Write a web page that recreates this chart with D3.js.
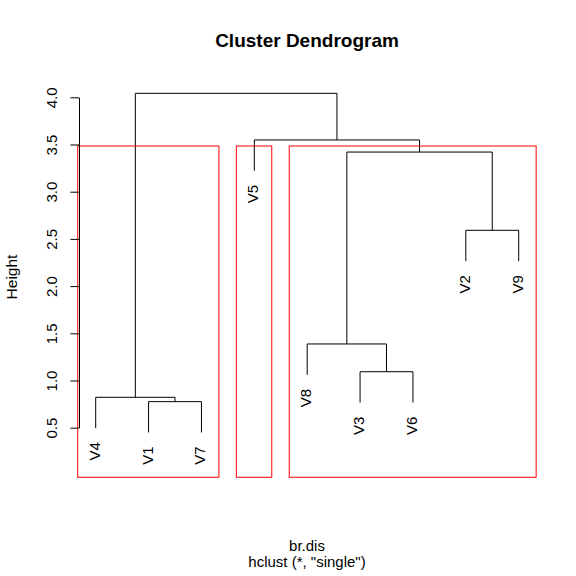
<!DOCTYPE html>
<html lang="en">
<head>
<meta charset="utf-8">
<title>Cluster Dendrogram</title>
<script src="https://cdn.jsdelivr.net/npm/d3@7"></script>
<style>
  body { margin: 0; background: #fff; }
  text { font-family: "Liberation Sans", Arial, Helvetica, sans-serif; fill: #000; }
</style>
</head>
<body>
<script>
// hclust result (R style merge matrix: negative = leaf number, positive = earlier merge)
var leafNames = ["V1", "V2", "V3", "V4", "V5", "V6", "V7", "V8", "V9"];
var mergeLeft = [-1, -4, -3, -8, -2, 4, -5, 2];
var mergeRight = [-7, 1, -6, 3, -9, 5, 6, 7];
var mergeHeight = [0.776, 0.822, 1.093, 1.387, 2.591, 3.420, 3.548, 4.042];
var yTicks = [0.5, 1.0, 1.5, 2.0, 2.5, 3.0, 3.5, 4.0];
var kClusters = 3;

var W = 576, H = 576;
var svg = d3.select("body").append("svg")
  .attr("width", W).attr("height", H);

// leaf order by walking the tree from the top merge
var order = [];
function walk(n) {
  if (n < 0) { order.push(-n); return; }
  walk(mergeLeft[n - 1]);
  walk(mergeRight[n - 1]);
}
walk(mergeLeft.length);

var x = d3.scaleLinear().domain([1, order.length]).range([95.7, 518.7]);
var y = d3.scaleLinear().domain([0.5, 4.0]).range([427.7, 97.3]);
var hang = 0.1 * (d3.max(mergeHeight) - d3.min(mergeHeight));
var plotBottom = -0.025;

var leafPos = {};
order.forEach(function(leaf, i) { leafPos[leaf] = i + 1; });

var nodeX = [], lines = [], leafEnds = [];
function childX(c) { return c < 0 ? leafPos[-c] : nodeX[c - 1]; }
function childTop(c, h) {
  if (c < 0) {
    leafEnds.push({ leaf: -c, h: h - hang });
    return h - hang;
  }
  return mergeHeight[c - 1];
}
for (var i = 0; i < mergeLeft.length; i++) {
  var h = mergeHeight[i];
  var a = mergeLeft[i], b = mergeRight[i];
  var xa = childX(a), xb = childX(b);
  nodeX.push((xa + xb) / 2);
  lines.push([xa, childTop(a, h), xa, h]);
  lines.push([xa, h, xb, h]);
  lines.push([xb, h, xb, childTop(b, h)]);
}

svg.append("g").selectAll("line").data(lines).enter().append("line")
  .attr("x1", function(d) { return x(d[0]); })
  .attr("y1", function(d) { return y(d[1]); })
  .attr("x2", function(d) { return x(d[2]); })
  .attr("y2", function(d) { return y(d[3]); })
  .attr("stroke", "#000").attr("stroke-width", 1);

// leaf labels
svg.append("g").selectAll("text").data(leafEnds).enter().append("text")
  .attr("transform", function(d) {
    return "translate(" + (x(leafPos[d.leaf]) + 4) + "," + (y(d.h) + 14) + ") rotate(-90)";
  })
  .attr("text-anchor", "end")
  .style("font-size", "15px")
  .text(function(d) { return leafNames[d.leaf - 1]; });

// rect.hclust boxes: cut tree into k groups
function members(n) {
  if (n < 0) return [-n];
  return members(mergeLeft[n - 1]).concat(members(mergeRight[n - 1]));
}
var clusterRoots = [mergeLeft.length];
while (clusterRoots.length < kClusters) {
  var topNode = d3.max(clusterRoots);
  clusterRoots = clusterRoots.filter(function(c) { return c !== topNode; });
  clusterRoots.push(mergeLeft[topNode - 1], mergeRight[topNode - 1]);
}
var sorted = mergeHeight.slice().sort(d3.descending);
var cutH = (sorted[kClusters - 2] + sorted[kClusters - 1]) / 2;
var boxes = clusterRoots.map(function(c) {
  var pos = members(c).map(function(l) { return leafPos[l]; });
  return { lo: d3.min(pos) - 1, hi: d3.max(pos) };
});
svg.append("g").selectAll("rect").data(boxes).enter().append("rect")
  .attr("x", function(d) { return x(d.lo + 0.66); })
  .attr("width", function(d) { return x(d.hi + 0.33) - x(d.lo + 0.66); })
  .attr("y", y(cutH))
  .attr("height", y(plotBottom) - y(cutH))
  .attr("fill", "none").attr("stroke", "red").attr("stroke-width", 1);

// y axis
var axis = svg.append("g").attr("transform", "translate(79,0)")
  .call(d3.axisLeft(y).tickValues(yTicks).tickFormat(d3.format(".1f"))
    .tickSize(8.6).tickSizeOuter(0));
axis.select(".domain").attr("stroke", "#000");
axis.selectAll(".tick line").attr("stroke", "#000");
axis.selectAll(".tick text")
  .attr("transform", "rotate(-90)")
  .attr("x", 0).attr("y", -22).attr("dy", null)
  .attr("text-anchor", "middle")
  .style("font-size", "15px").style("font-family", "'Liberation Sans', Arial, sans-serif")
  .attr("fill", "#000");

// titles
svg.append("text").attr("x", 307).attr("y", 46.7)
  .attr("text-anchor", "middle").style("font-size", "19px").style("font-weight", "bold")
  .text("Cluster Dendrogram");
svg.append("text").attr("x", 307).attr("y", 550.7)
  .attr("text-anchor", "middle").style("font-size", "15px")
  .text("br.dis");
svg.append("text").attr("x", 307).attr("y", 566.7)
  .attr("text-anchor", "middle").style("font-size", "15px")
  .text('hclust (*, "single")');
svg.append("text").attr("transform", "translate(17,277) rotate(-90)")
  .attr("text-anchor", "middle").style("font-size", "15.5px")
  .text("Height");
</script>
</body>
</html>
